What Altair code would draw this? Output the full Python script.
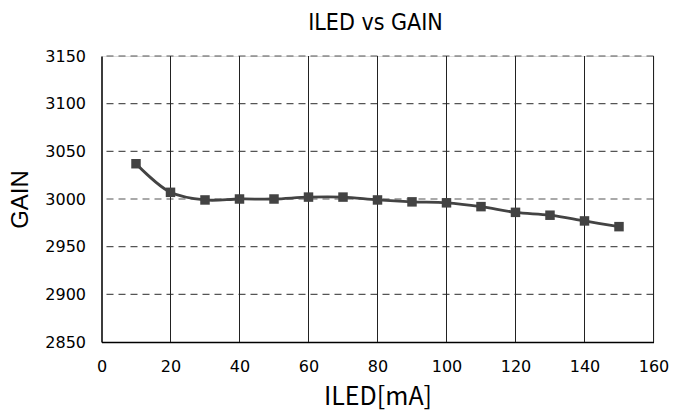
import altair as alt
import pandas as pd

iled = [10, 20, 30, 40, 50, 60, 70, 80, 90, 100, 110, 120, 130, 140, 150]
gain = [3037, 3007, 2999, 3000, 3000, 3002, 3002, 2999, 2997, 2996, 2992, 2986, 2983, 2977, 2971]
x_ticks = [0, 20, 40, 60, 80, 100, 120, 140, 160]
y_ticks = [2850, 2900, 2950, 3000, 3050, 3100, 3150]

df = pd.DataFrame({"ILED": iled, "GAIN": gain})
TICKFONT = "DejaVu Sans"
COL = "#434343"

x_enc = alt.X("ILED:Q", scale=alt.Scale(domain=[0, 160], nice=False),
              axis=alt.Axis(values=x_ticks, title="ILED[mA]", grid=False, ticks=False,
                            labelFlush=False, labelOverlap=False,
                            labelPadding=16, labelFont=TICKFONT, labelFontSize=16, labelColor="black",
                            titleFont="Noto Sans CJK JP", titleFontSize=25, titleFontWeight="normal",
                            titleColor="black", titlePadding=10,
                            domainColor="black", domainWidth=1.5))
y_enc = alt.Y("GAIN:Q", scale=alt.Scale(domain=[2850, 3150], nice=False, zero=False),
              axis=alt.Axis(values=y_ticks, title="GAIN", grid=False, ticks=False, format="d",
                            labelFlush=False, labelOverlap=False,
                            labelPadding=16, labelFont=TICKFONT, labelFontSize=16,
                            labelColor="black", titleFont="Liberation Sans", titleFontSize=24,
                            titleFontWeight="normal", titleColor="black", titlePadding=12,
                            domainColor="black", domainWidth=1.5))

vgrid = alt.Chart(pd.DataFrame({"v": x_ticks[1:]})).mark_rule(color="#222222", strokeWidth=1).encode(
    x=alt.X("v:Q", scale=alt.Scale(domain=[0, 160], nice=False)))
hgrid = alt.Chart(pd.DataFrame({"h": y_ticks[1:]})).mark_rule(
    color="#555555", strokeWidth=1.2, strokeDash=[7, 5]).encode(
    y=alt.Y("h:Q", scale=alt.Scale(domain=[2850, 3150], nice=False, zero=False)))

line = alt.Chart(df).mark_line(color=COL, strokeWidth=2.8, interpolate="catmull-rom").encode(
    x=x_enc, y=y_enc)
pts = alt.Chart(df).mark_square(color=COL, opacity=1, size=90).encode(x=x_enc, y=y_enc)

chart = alt.layer(hgrid, vgrid, line, pts).properties(
    width=552, height=286,
    title=alt.TitleParams("ILED vs GAIN", font="DejaVu Sans Condensed", fontSize=23,
                          fontWeight="normal", color="black", offset=13, anchor="middle",
                          dx=-2, frame="group"),
    autosize=alt.AutoSizeParams(type="none"),
    padding={"left": 93.5, "top": 48, "right": 16.5, "bottom": 68},
).configure_view(stroke=None).configure(background="white")

chart.save("out.html", embed_options={"renderer": "svg", "actions": False})
